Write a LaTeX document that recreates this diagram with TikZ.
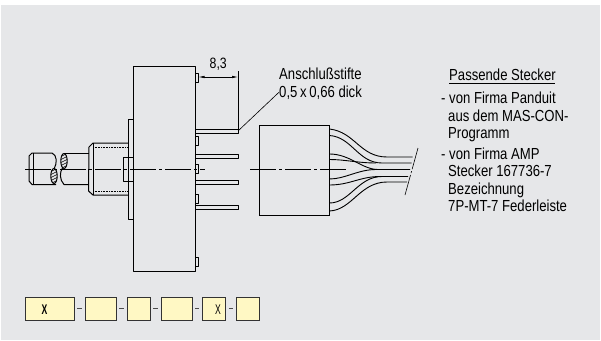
\documentclass[tikz,border=0pt]{standalone}
\usepackage{fontspec}
\setmainfont[FakeStretch=0.82]{Liberation Sans}
\usetikzlibrary{arrows.meta,positioning}
\definecolor{panelgray}{HTML}{E6E7E9}
\definecolor{boxyellow}{HTML}{FFF8C4}
\tikzset{
  part/.style={draw=black,line width=1pt,line join=round},
  wire/.style={draw=black,line width=0.9pt},
  thin line/.style={draw=black,line width=0.6pt},
  axis line/.style={draw=black,line width=0.6pt,dash pattern=on 26pt off 3pt on 3pt off 3pt},
  code box/.style={draw=black!80,fill=boxyellow,line width=0.9pt,minimum height=23pt,inner sep=0pt},
  label/.style={inner sep=0pt,anchor=base west,font=\fontsize{16}{18}\selectfont},
}
\begin{document}
\begin{tikzpicture}[x=1pt,y=-1pt,>=Latex]
  \useasboundingbox (0,0) rectangle (601,340);
  \fill[panelgray] (1,5) rectangle (600,340);
  % housing
  \draw[part] (133,66) rectangle (195,271);
  \draw[part] (133,119) -- (128,119) -- (128,219) -- (133,219);
  \draw[part] (128,157) -- (123,157) -- (123,181) -- (133,181);
  \draw[part] (123,157) -- (133,157);
  % bushing
  \draw[part] (128,143) -- (93,143) -- (89,147) -- (88.5,191) -- (93,195) -- (128,195);
  \draw[part] (93,143) -- (93,195);
  \draw[thin line,densely dotted] (93,147) -- (128,147);
  \draw[thin line,densely dotted] (93,191) -- (128,191);
  % shaft
  \draw[part] (88.5,153) -- (64,153);
  \draw[part] (62.5,168) .. controls (59.5,172) and (59.5,180) .. (64,184.5) -- (88.5,184.5);
  \draw[part] (54,169) .. controls (57.5,163) and (57,155) .. (52,153) -- (32,153) -- (29,156) -- (29,181) -- (32,184.5) -- (56,184.5);
  \draw[thin line] (33,153) -- (33,184.5);
  \foreach \cx/\cy in {54/176,64/161}{
    \begin{scope}
      \clip (\cx,\cy) ellipse [x radius=3.2,y radius=7.5];
      \foreach \i in {-12,-9,...,12}
        \draw[thin line] (\cx-6,\cy+\i+3) -- (\cx+6,\cy+\i-3);
    \end{scope}
    \draw[part] (\cx,\cy) ellipse [x radius=3.2,y radius=7.5];
  }
  % contacts on the housing
  \foreach \ty in {73,136,164.5,194,257}
    \draw[part] (195,\ty) rectangle (198.5,\ty+9);
  % pins
  \foreach \py in {129.5,154.5,180,205}
    \draw[part] (195,\py) rectangle (238,\py+4);
  % centre lines
  \coordinate (axl) at (25,169);
  \coordinate (axr) at (205,169);
  \draw[axis line] (axl) -- (axr);
  \coordinate (axpl) at (250,169);
  \coordinate (axpr) at (347,169);
  \draw[axis line] (axpl) -- (axpr);
  % dimension
  \coordinate (dimtop) at (238,71);
  \coordinate (dimbot) at (238,129.5);
  \draw[thin line] (dimtop) -- (dimbot);
  \coordinate (dima) at (198.5,77);
  \coordinate (dimb) at (238,77);
  \draw[thin line,<->,>={Latex[length=6pt,width=2.5pt]}] (dima) -- (dimb) node[midway,above=6pt,inner sep=0pt,font=\fontsize{15}{17}\selectfont] (dimlabel) {8,3};
  % plug
  \node[draw=black,line width=1pt,minimum width=69.5pt,minimum height=90pt,inner sep=0pt] (plug) at (294.5,170) {};
  % cable
  \draw[wire] (329.5,129) .. controls (355,132) and (360,157) .. (387,157) -- (412.5,157);
  \draw[wire] (329.5,135.5) .. controls (352,137) and (358,163) .. (382,163) -- (411.5,163);
  \draw[wire] (329.5,154) .. controls (350,154) and (362,169.5) .. (378,169.5) -- (410,169.5);
  \draw[wire] (329.5,159.5) .. controls (345,159.5) and (358,163) .. (376,163);
  \draw[wire] (329.5,179) .. controls (345,179) and (358,169.5) .. (376,169.5);
  \draw[wire] (329.5,185) .. controls (350,185) and (360,176.5) .. (380,176.5) -- (408,176.5);
  \draw[wire] (329.5,203) .. controls (350,203) and (358,176.5) .. (382,176.5);
  \draw[wire] (329.5,211) .. controls (352,210) and (360,182) .. (387,182) -- (407,182);
  \coordinate (cuta) at (418,148);
  \coordinate (cutb) at (405,195);
  \draw[thin line,dash pattern=on 22pt off 2pt on 2pt off 2pt] (cuta) -- (cutb);
  % pin note
  \node[label] (note) at (279,79) {Anschlußstifte};
  \node[label] (noteb) at (279,97) {0,5\,x\,0,66 dick};
  \coordinate (pinend) at (238,131);
  \draw[thin line] (pinend) -- (noteb.west);
  % plugs list
  \node[label] (head) at (449,80) {Passende Stecker};
  \draw[thin line,line width=0.9pt] (head.base west)++(0,3.5) -- ++(106,0);
  \node[label] (la) at (441,103.5) {- von Firma Panduit};
  \node[label] (lb) at (448,121) {aus dem MAS-CON-};
  \node[label] (lc) at (448,138) {Programm};
  \node[label] (ld) at (441,159) {- von Firma AMP};
  \node[label] (le) at (448,176.5) {Stecker 167736-7};
  \node[label] (lf) at (448,194) {Bezeichnung};
  \node[label] (lg) at (448,211.5) {7P-MT-7 Federleiste};
  % order code
  \node[code box,minimum width=49pt] (ca) at (49.5,308.8) {};
  \node[code box,minimum width=31pt] (cb) at (100.5,308.8) {};
  \node[code box,minimum width=23pt] (cc) at (138.5,308.8) {};
  \node[code box,minimum width=31pt] (cd) at (176.5,308.8) {};
  \node[code box,minimum width=23pt] (ce) at (214,308.8) {};
  \node[code box,minimum width=23pt] (cf) at (248,308.8) {};
  \node[font=\fontsize{14}{16}\bfseries\selectfont,inner sep=0pt,xscale=0.75] (xa) at (44.5,309.5) {X};
  \node[font=\fontsize{14}{16}\selectfont,inner sep=0pt,xscale=0.75] (xb) at (218,309.5) {X};
  \foreach \p/\q in {ca/cb,cb/cc,cc/cd,cd/ce,ce/cf}
    \draw[draw=black!70,line width=0.9pt,shorten <=3pt,shorten >=3pt] (\p) -- (\q);
\end{tikzpicture}
\end{document}
